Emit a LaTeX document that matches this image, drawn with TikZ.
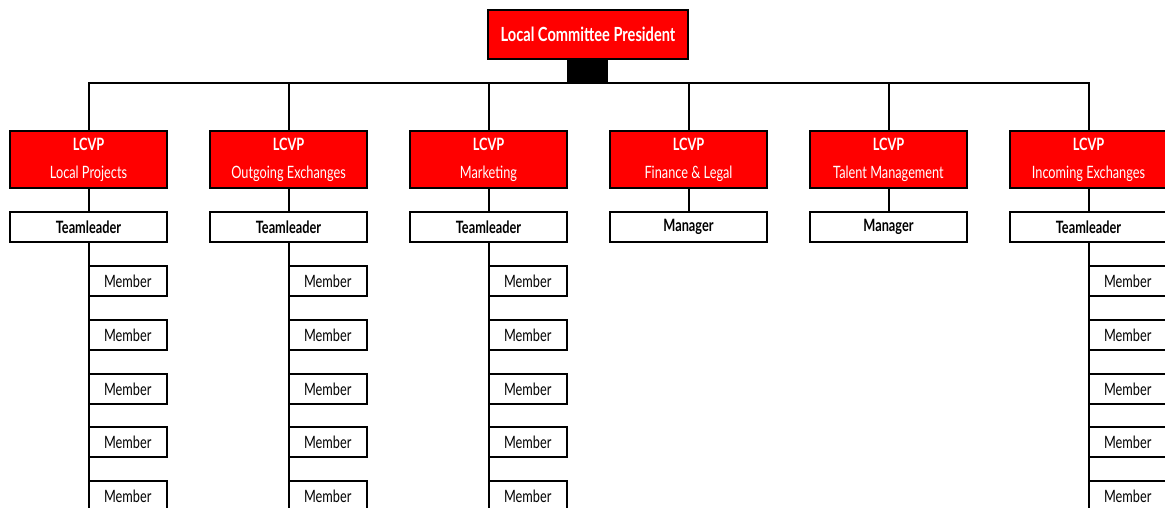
\documentclass[tikz,border=0pt]{standalone}
\usepackage{fontspec}
\setmainfont{Lato}[FakeStretch=0.75]
\begin{document}
\begin{tikzpicture}[x=1pt,y=-1pt,
  box/.style={draw=black,line width=2pt,inner sep=0pt,font=\fontsize{17}{20}\selectfont},
  pres/.style={box,fill=red,text=white,minimum width=200pt,minimum height=49pt,font=\fontsize{19.5}{22}\selectfont\bfseries},
  vp/.style={box,fill=red,text=white,minimum width=157pt,minimum height=57pt,align=center},
  lead/.style={box,fill=white,minimum width=157pt,minimum height=30pt,font=\fontsize{17}{20}\selectfont\bfseries},
  member/.style={box,fill=white,minimum width=78.5pt,minimum height=30pt},
  link/.style={draw=black,line width=2pt}]
\useasboundingbox (0,0) rectangle (1165,508);
\clip (0,0) rectangle (1165,508);
\fill[white] (0,0) rectangle (1165,508);

% president and hub block
\node[pres] (pres) at (588,34.5) {Local Committee President};
\node[fill=black,minimum width=41pt,minimum height=24pt,inner sep=0pt,anchor=north] (hub) at (587.5,59) {};

% vice presidents
\foreach \i/\name in {0/Local Projects,1/Outgoing Exchanges,2/Marketing,3/Finance \& Legal,4/Talent Management,5/Incoming Exchanges}{
  \node[vp] (vp\i) at (88.5+200*\i,159.5) {{\bfseries LCVP}\\[8pt]\name};
  \draw[link] (hub.south) -| (vp\i.north);
}

% team leaders / managers
\foreach \i/\role in {0/Teamleader,1/Teamleader,2/Teamleader,3/Manager,4/Manager,5/Teamleader}{
  \node[lead] (lead\i) at (88.5+200*\i,227) {\role};
  \draw[link] (vp\i.south) -- (lead\i.north);
}

% members
\foreach \i in {0,1,2,5}{
  \coordinate (end\i) at (88.5+200*\i,520);
  \draw[link] (lead\i.south) -- (end\i);
  \foreach \j/\y in {1/281,2/335,3/389,4/442,5/496}{
    \node[member] (m\i\j) at (127.75+200*\i,\y) {Member};
  }
}
\end{tikzpicture}
\end{document}
